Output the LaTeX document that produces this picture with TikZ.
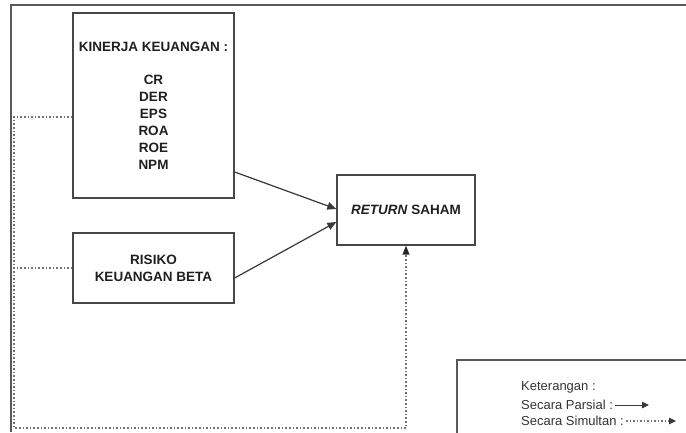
\documentclass[tikz,border=0pt]{standalone}
\usepackage{fontspec}
\setmainfont{Liberation Sans}
\usetikzlibrary{arrows.meta}
\begin{document}
\begin{tikzpicture}[x=1pt,y=-1pt,
  box/.style={draw=black!72,line width=1.3pt,inner sep=0pt,align=center,
    font=\fontsize{13.5}{17}\selectfont\bfseries,text=black!88},
  partial/.style={draw=black!78,line width=1.2pt,-{Triangle[length=9pt,width=7.5pt]}},
  simul/.style={draw=black!55,line width=1.4pt,dash pattern=on 1.6pt off 2pt},
  frame/.style={draw=black!65,line width=1.5pt},
  legtext/.style={anchor=west,inner sep=0pt,font=\fontsize{13}{15}\selectfont,text=black!80}]
\useasboundingbox (0,0) rectangle (686,432);
% frame
\draw[frame] (686,5) -- (11,5) -- (11,432);
% boxes
\node[box,minimum width=161pt,minimum height=185pt] (kin) at (153.5,105.5)
  {\fontsize{13.5}{16.4}\selectfont KINERJA KEUANGAN :\\[16.4pt] CR\\ DER\\ EPS\\ ROA\\ ROE\\ NPM};
\node[box,minimum width=161pt,minimum height=70pt] (ris) at (153.5,268)
  {RISIKO\\ KEUANGAN BETA};
\node[box,minimum width=138pt,minimum height=70pt] (ret) at (406,210)
  {\textit{RETURN} SAHAM};
% partial arrows
\draw[partial] ([yshift=-66.5pt]kin.east) -- ([yshift=1pt]ret.west);
\draw[partial] ([yshift=-10pt]ris.east) -- ([yshift=-12pt]ret.west);
% simultaneous
\coordinate (c1) at (14,117);
\coordinate (c2) at (14,428);
\coordinate (c3) at (406,428);
\draw[simul] ([yshift=-11.5pt]kin.west) -- (c1) -- (c2) -- (c3) -- ([yshift=-6pt]ret.south);
\draw[simul] (ris.west) -- (ris.west -| c1);
\fill[black!85] (ret.south) -- ++(-3.6,9) -- ++(7.2,0) -- cycle;
% legend
\draw[frame,line width=1.3pt,draw=black!65] (457,440) -- (457,360) -- (690,360);
\node[legtext] (k) at (521,387) {Keterangan :};
\node[legtext] (p) at (521,405) {Secara Parsial :};
\node[legtext] (s) at (521,421) {Secara Simultan :};
\coordinate (pe) at (649,405);
\coordinate (se) at (676,421);
\draw[draw=black!78,line width=1pt,-{Triangle[length=7pt,width=6.5pt]}] ([xshift=2pt]p.east) -- (pe);
\draw[draw=black!55,line width=1.2pt,dash pattern=on 1.5pt off 2pt] ([xshift=2pt]s.east) -- ([xshift=-6pt]se);
\draw[draw=black!78,line width=1pt,-{Triangle[length=7pt,width=6.5pt]}] ([xshift=-7pt]se) -- (se);
\end{tikzpicture}
\end{document}
